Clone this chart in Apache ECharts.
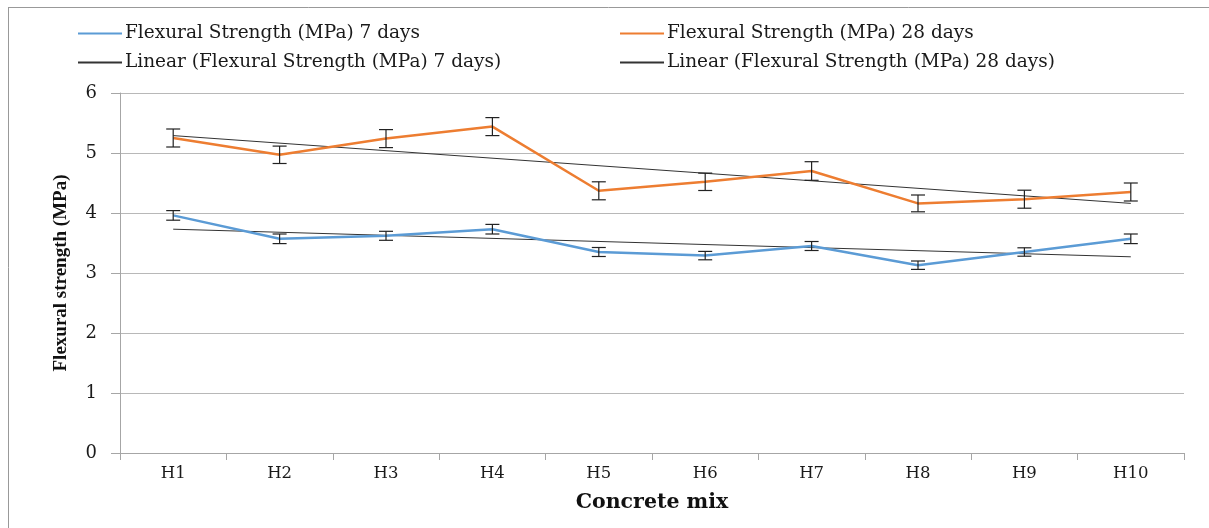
<!DOCTYPE html>
<html>
<head>
<meta charset="utf-8">
<script src="https://cdn.jsdelivr.net/npm/echarts@6/dist/echarts.min.js"></script>
<style>html,body{margin:0;padding:0;background:#fff;}#c{width:1209px;height:528px;}</style>
</head>
<body>
<div id="c"></div>
<script>
const categories = ['H1','H2','H3','H4','H5','H6','H7','H8','H9','H10'];
const strength7 = [3.96, 3.57, 3.62, 3.73, 3.35, 3.29, 3.45, 3.13, 3.35, 3.57];
const strength28 = [5.25, 4.97, 5.24, 5.44, 4.37, 4.52, 4.70, 4.16, 4.23, 4.35];
const err7 = [0.08, 0.08, 0.075, 0.08, 0.075, 0.07, 0.075, 0.07, 0.07, 0.08];
const err28 = [0.15, 0.145, 0.15, 0.15, 0.15, 0.145, 0.155, 0.14, 0.15, 0.15];
// trendline values read at H1 and H10
const trend7Ends = [3.73, 3.27];
const trend28Ends = [5.29, 4.16];
const yTicks = [0, 1, 2, 3, 4, 5, 6];

const serif = 'DejaVu Serif';
const names = ['Flexural Strength (MPa) 7 days', 'Flexural Strength (MPa) 28 days',
  'Linear (Flexural Strength (MPa) 7 days)', 'Linear (Flexural Strength (MPa) 28 days)'];

function errSeries(vals, errs) {
  return {
    type: 'custom',
    z: 5,
    silent: true,
    data: vals.map((v, i) => [i, v, errs[i]]),
    renderItem: function (params, api) {
      const x = api.value(0), v = api.value(1), e = api.value(2);
      const top = api.coord([x, v + e]);
      const bot = api.coord([x, v - e]);
      const cw = 7;
      const st = { stroke: '#222', lineWidth: 1.2 };
      return {
        type: 'group',
        children: [
          { type: 'line', shape: { x1: top[0], y1: top[1], x2: bot[0], y2: bot[1] }, style: st },
          { type: 'line', shape: { x1: top[0] - cw, y1: top[1], x2: top[0] + cw, y2: top[1] }, style: st },
          { type: 'line', shape: { x1: bot[0] - cw, y1: bot[1], x2: bot[0] + cw, y2: bot[1] }, style: st }
        ]
      };
    }
  };
}

const legendText = { fontFamily: serif, fontSize: 18.5, color: '#1a1a1a', padding: [0, 0, 0, -2] };
const noSym = { opacity: 0 };

const chart = echarts.init(document.getElementById('c'));
chart.setOption({
  animation: false,
  backgroundColor: '#fff',
  graphic: [
    { type: 'line', shape: { x1: 8, y1: 7.5, x2: 1209, y2: 7.5 }, style: { stroke: '#999', lineWidth: 1 } },
    { type: 'line', shape: { x1: 8.5, y1: 7, x2: 8.5, y2: 528 }, style: { stroke: '#999', lineWidth: 1 } }
  ],
  legend: [
    {
      left: 72, top: 19, orient: 'vertical', itemGap: 10, itemWidth: 44, itemHeight: 20,
      textStyle: legendText, itemStyle: noSym,
      data: [names[0], names[2]]
    },
    {
      left: 614, top: 19, orient: 'vertical', itemGap: 10, itemWidth: 44, itemHeight: 20,
      textStyle: legendText, itemStyle: noSym,
      data: [names[1], names[3]]
    }
  ],
  grid: { left: 120, right: 25, top: 93, bottom: 75 },
  xAxis: {
    type: 'category',
    data: categories,
    boundaryGap: true,
    name: 'Concrete mix',
    nameLocation: 'middle',
    nameGap: 39,
    nameTextStyle: { fontFamily: serif, fontWeight: 'bold', fontSize: 20.5, color: '#111' },
    axisLine: { lineStyle: { color: '#a6a6a6', width: 1 } },
    axisTick: { show: true, alignWithLabel: false, length: 7, lineStyle: { color: '#a6a6a6' } },
    axisLabel: { fontFamily: serif, fontSize: 16.5, color: '#1a1a1a', margin: 12 },
    splitLine: { show: false }
  },
  yAxis: {
    type: 'value',
    min: 0, max: 6, interval: 1,
    name: 'Flexural strength (MPa)',
    nameLocation: 'middle',
    nameGap: 49,
    nameTextStyle: { fontFamily: 'Liberation Serif', fontWeight: 'bold', fontSize: 19, color: '#111' },
    axisLine: { show: true, lineStyle: { color: '#a6a6a6', width: 1 } },
    axisTick: { show: true, length: 9, lineStyle: { color: '#a6a6a6' } },
    axisLabel: {
      fontFamily: serif, fontSize: 18, color: '#1a1a1a', margin: 23,
      formatter: v => yTicks.includes(v) ? String(v) : ''
    },
    splitLine: { show: true, lineStyle: { color: '#b8b8b8', width: 1 } }
  },
  series: [
    {
      name: names[0], type: 'line', data: strength7, symbol: 'none', z: 4,
      lineStyle: { color: '#5B9BD5', width: 2.5 }, itemStyle: { color: '#5B9BD5' }
    },
    {
      name: names[1], type: 'line', data: strength28, symbol: 'none', z: 4,
      lineStyle: { color: '#ED7D31', width: 2.5 }, itemStyle: { color: '#ED7D31' }
    },
    {
      name: names[2], type: 'line', symbol: 'none', z: 3,
      data: [[categories[0], trend7Ends[0]], [categories[categories.length - 1], trend7Ends[1]]],
      lineStyle: { color: '#333', width: 1 }, itemStyle: { color: '#333' }
    },
    {
      name: names[3], type: 'line', symbol: 'none', z: 3,
      data: [[categories[0], trend28Ends[0]], [categories[categories.length - 1], trend28Ends[1]]],
      lineStyle: { color: '#333', width: 1 }, itemStyle: { color: '#333' }
    },
    errSeries(strength7, err7),
    errSeries(strength28, err28)
  ]
});
</script>
</body>
</html>
